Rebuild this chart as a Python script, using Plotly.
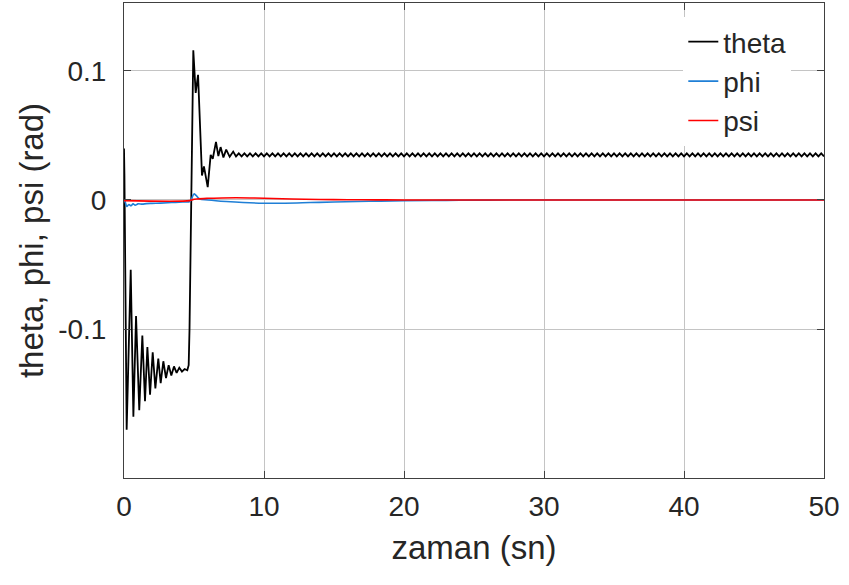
import plotly.graph_objects as go

# ---------------- data ----------------
# theta: transient part
t_theta_tr = [0.00, 0.03, 0.19, 0.48, 0.67, 0.86, 1.09, 1.31, 1.50, 1.67, 1.86,
              2.05, 2.24, 2.45, 2.62, 2.81, 3.00, 3.19, 3.38, 3.57, 3.76, 3.95,
              4.14, 4.33, 4.52, 4.62, 4.68, 4.79, 4.90, 4.95, 5.12, 5.29, 5.57,
              5.71, 5.98, 6.19, 6.34, 6.57, 6.74, 6.90, 7.10, 7.30, 7.55, 7.80]
theta_tr = [0.040, 0.020, -0.178, -0.054, -0.168, -0.090, -0.163, -0.105, -0.156,
            -0.114, -0.151, -0.118, -0.146, -0.123, -0.142, -0.125, -0.138, -0.128,
            -0.136, -0.129, -0.134, -0.130, -0.133, -0.131, -0.132, -0.128, -0.100,
            0.000, 0.100, 0.116, 0.083, 0.097, 0.019, 0.026, 0.010, 0.035, 0.032,
            0.045, 0.034, 0.041, 0.033, 0.039, 0.0335, 0.0375]

# theta: steady-state small oscillation
t_theta_ss = [
    8.0, 8.2, 8.4, 8.6, 8.8, 9.0, 9.2, 9.4, 9.6, 9.8,
    10.0, 10.2, 10.4, 10.6, 10.8, 11.0, 11.2, 11.4, 11.6, 11.8,
    12.0, 12.2, 12.4, 12.6, 12.8, 13.0, 13.2, 13.4, 13.6, 13.8,
    14.0, 14.2, 14.4, 14.6, 14.8, 15.0, 15.2, 15.4, 15.6, 15.8,
    16.0, 16.2, 16.4, 16.6, 16.8, 17.0, 17.2, 17.4, 17.6, 17.8,
    18.0, 18.2, 18.4, 18.6, 18.8, 19.0, 19.2, 19.4, 19.6, 19.8,
    20.0, 20.2, 20.4, 20.6, 20.8, 21.0, 21.2, 21.4, 21.6, 21.8,
    22.0, 22.2, 22.4, 22.6, 22.8, 23.0, 23.2, 23.4, 23.6, 23.8,
    24.0, 24.2, 24.4, 24.6, 24.8, 25.0, 25.2, 25.4, 25.6, 25.8,
    26.0, 26.2, 26.4, 26.6, 26.8, 27.0, 27.2, 27.4, 27.6, 27.8,
    28.0, 28.2, 28.4, 28.6, 28.8, 29.0, 29.2, 29.4, 29.6, 29.8,
    30.0, 30.2, 30.4, 30.6, 30.8, 31.0, 31.2, 31.4, 31.6, 31.8,
    32.0, 32.2, 32.4, 32.6, 32.8, 33.0, 33.2, 33.4, 33.6, 33.8,
    34.0, 34.2, 34.4, 34.6, 34.8, 35.0, 35.2, 35.4, 35.6, 35.8,
    36.0, 36.2, 36.4, 36.6, 36.8, 37.0, 37.2, 37.4, 37.6, 37.8,
    38.0, 38.2, 38.4, 38.6, 38.8, 39.0, 39.2, 39.4, 39.6, 39.8,
    40.0, 40.2, 40.4, 40.6, 40.8, 41.0, 41.2, 41.4, 41.6, 41.8,
    42.0, 42.2, 42.4, 42.6, 42.8, 43.0, 43.2, 43.4, 43.6, 43.8,
    44.0, 44.2, 44.4, 44.6, 44.8, 45.0, 45.2, 45.4, 45.6, 45.8,
    46.0, 46.2, 46.4, 46.6, 46.8, 47.0, 47.2, 47.4, 47.6, 47.8,
    48.0, 48.2, 48.4, 48.6, 48.8, 49.0, 49.2, 49.4, 49.6, 49.8,
    50.0]
theta_ss = [
    0.0338, 0.0362, 0.0338, 0.0362, 0.0338, 0.0362, 0.0338, 0.0362, 0.0338, 0.0362,
    0.0338, 0.0362, 0.0338, 0.0362, 0.0338, 0.0362, 0.0338, 0.0362, 0.0338, 0.0362,
    0.0338, 0.0362, 0.0338, 0.0362, 0.0338, 0.0362, 0.0338, 0.0362, 0.0338, 0.0362,
    0.0338, 0.0362, 0.0338, 0.0362, 0.0338, 0.0362, 0.0338, 0.0362, 0.0338, 0.0362,
    0.0338, 0.0362, 0.0338, 0.0362, 0.0338, 0.0362, 0.0338, 0.0362, 0.0338, 0.0362,
    0.0338, 0.0362, 0.0338, 0.0362, 0.0338, 0.0362, 0.0338, 0.0362, 0.0338, 0.0362,
    0.0338, 0.0362, 0.0338, 0.0362, 0.0338, 0.0362, 0.0338, 0.0362, 0.0338, 0.0362,
    0.0338, 0.0362, 0.0338, 0.0362, 0.0338, 0.0362, 0.0338, 0.0362, 0.0338, 0.0362,
    0.0338, 0.0362, 0.0338, 0.0362, 0.0338, 0.0362, 0.0338, 0.0362, 0.0338, 0.0362,
    0.0338, 0.0362, 0.0338, 0.0362, 0.0338, 0.0362, 0.0338, 0.0362, 0.0338, 0.0362,
    0.0338, 0.0362, 0.0338, 0.0362, 0.0338, 0.0362, 0.0338, 0.0362, 0.0338, 0.0362,
    0.0338, 0.0362, 0.0338, 0.0362, 0.0338, 0.0362, 0.0338, 0.0362, 0.0338, 0.0362,
    0.0338, 0.0362, 0.0338, 0.0362, 0.0338, 0.0362, 0.0338, 0.0362, 0.0338, 0.0362,
    0.0338, 0.0362, 0.0338, 0.0362, 0.0338, 0.0362, 0.0338, 0.0362, 0.0338, 0.0362,
    0.0338, 0.0362, 0.0338, 0.0362, 0.0338, 0.0362, 0.0338, 0.0362, 0.0338, 0.0362,
    0.0338, 0.0362, 0.0338, 0.0362, 0.0338, 0.0362, 0.0338, 0.0362, 0.0338, 0.0362,
    0.0338, 0.0362, 0.0338, 0.0362, 0.0338, 0.0362, 0.0338, 0.0362, 0.0338, 0.0362,
    0.0338, 0.0362, 0.0338, 0.0362, 0.0338, 0.0362, 0.0338, 0.0362, 0.0338, 0.0362,
    0.0338, 0.0362, 0.0338, 0.0362, 0.0338, 0.0362, 0.0338, 0.0362, 0.0338, 0.0362,
    0.0338, 0.0362, 0.0338, 0.0362, 0.0338, 0.0362, 0.0338, 0.0362, 0.0338, 0.0362,
    0.0338, 0.0362, 0.0338, 0.0362, 0.0338, 0.0362, 0.0338, 0.0362, 0.0338, 0.0362,
    0.0338]

t_phi = [0.0, 0.1, 0.2, 0.35, 0.5, 0.65, 0.8, 1.0, 1.3, 1.6, 2.0, 2.6, 3.4, 4.2,
         4.7, 4.85, 5.0, 5.15, 5.4, 6.0, 7.3, 8.5, 10.0, 11.5, 13.3, 15.0, 17.5,
         20.0, 23.0, 26.0, 30.0, 35.0, 40.0, 45.0, 50.0]
phi = [0.0, -0.002, -0.005, -0.0035, -0.0045, -0.003, -0.004, -0.003, -0.0032,
       -0.0028, -0.0026, -0.0024, -0.002, -0.0015, -0.0012, 0.0015, 0.0047, 0.0035,
       0.0008, 0.0, -0.0012, -0.002, -0.0025, -0.0025, -0.002, -0.0015, -0.001,
       -0.0006, -0.0003, -0.0001, 0.0, 0.0, 0.0, 0.0, 0.0]

t_psi = [0.0, 4.7, 4.9, 5.2, 6.0, 7.0, 8.0, 9.0, 10.0, 12.0, 14.0, 16.0, 18.0,
         20.0, 25.0, 30.0, 50.0]
psi = [-0.0005, -0.0005, 0.0003, 0.0008, 0.0013, 0.0016, 0.0017, 0.0016, 0.0013,
       0.0008, 0.0004, 0.0002, 0.0001, 0.0, 0.0, 0.0, 0.0]

x_ticks = [0, 10, 20, 30, 40, 50]
y_ticks = [-0.1, 0, 0.1]
y_tick_labels = ["-0.1", "0", "0.1"]

# ---------------- figure ----------------
FONT = "Liberation Sans, Arial, Helvetica, sans-serif"
TXT = "#262626"

fig = go.Figure()
fig.add_trace(go.Scatter(x=t_theta_tr + t_theta_ss, y=theta_tr + theta_ss,
                         mode="lines", name="theta", legendgroup="a",
                         line=dict(color="#000000", width=1.8)))
fig.add_trace(go.Scatter(x=t_phi, y=phi, mode="lines", name="phi", legendgroup="b",
                         line=dict(color="#1f7fd6", width=1.6, shape="spline")))
fig.add_trace(go.Scatter(x=t_psi, y=psi, mode="lines", name="psi", legendgroup="c",
                         line=dict(color="#ff0000", width=1.6, shape="spline")))

axis_common = dict(
    showline=True, linecolor="#404040", linewidth=1, mirror="ticks",
    ticks="inside", ticklen=7, tickcolor="#404040", tickwidth=1,
    showgrid=True, gridcolor="#c4c4c4", gridwidth=1, zeroline=False,
    tickfont=dict(family=FONT, size=28, color=TXT),
)

fig.update_layout(
    width=849, height=585,
    margin=dict(l=124, r=25, t=3, b=107),
    paper_bgcolor="white", plot_bgcolor="white",
    showlegend=True,
    legend=dict(x=0.799, y=0.9705, xanchor="left", yanchor="top",
                bgcolor="white", borderwidth=0, tracegroupgap=0,
                font=dict(family=FONT, size=28, color=TXT)),
    xaxis=dict(range=[0, 50], tickvals=x_ticks, ticklabelstandoff=3,
               title=dict(text="zaman (sn)", standoff=15,
                          font=dict(family=FONT, size=33, color=TXT)),
               **axis_common),
    yaxis=dict(range=[-0.2155, 0.1527], tickvals=y_ticks, ticktext=y_tick_labels,
               ticklabelstandoff=11,
               title=dict(text="theta, phi, psi (rad)", standoff=4,
                          font=dict(family=FONT, size=33, color=TXT)),
               **axis_common),
)

fig.write_html("out.html", config={"displayModeBar": False},
               post_script="document.body.style.margin='0';")
